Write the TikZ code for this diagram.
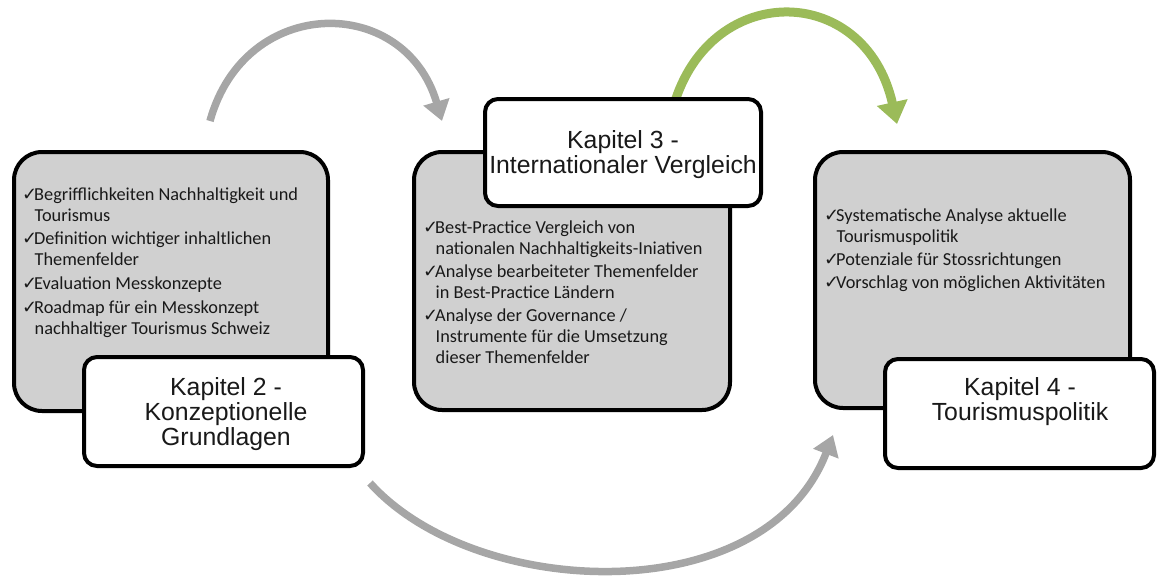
\documentclass[tikz,border=0pt]{standalone}
\usepackage{fontspec}
\usetikzlibrary{arrows.meta}
\newfontfamily\titlefont{Liberation Sans}
\newfontfamily\bodyfont{Carlito}
\newfontfamily\symfont{DejaVu Sans}
\definecolor{boxgray}{HTML}{D0D0D0}
\definecolor{arrowgray}{HTML}{A6A6A6}
\definecolor{arrowgreen}{HTML}{9BBB59}
\newcommand{\chk}{\makebox[12pt][l]{\symfont\fontsize{18}{18}\selectfont ✓}}
\newcommand{\cont}{\hspace*{0.5pt}}
\tikzset{
  graybox/.style={draw=black, line width=4pt, fill=boxgray, rounded corners=28pt},
  titlebox/.style={draw=black, line width=4pt, fill=white, rounded corners=13pt},
  titletext/.style={align=center, inner sep=0pt, font=\titlefont\fontsize{24.8}{25}\selectfont, text=black!90},
  bullettext/.style={anchor=north west, align=left, inner sep=0pt, font=\bodyfont\fontsize{18.3}{21}\selectfont, text=black!90},
  flow/.style={line width=7.5pt, draw=arrowgray, -{Triangle[length=20pt,width=26pt]}},
  flowgreen/.style={line width=9pt, draw=arrowgreen, -{Triangle[length=22pt,width=30pt]}}
}
\begin{document}
\begin{tikzpicture}[x=1pt, y=-1pt]
\useasboundingbox (0,0) rectangle (1158,576);

% curved flow arrows (drawn first, boxes sit on top)
\coordinate (a1s) at (210,121);
\coordinate (a1e) at (442,121);
\coordinate (a2s) at (672,112);
\coordinate (a2e) at (897,124);
\coordinate (a3s) at (370,483);
\coordinate (a3e) at (833,435);
\draw[flow] (a1s) .. controls (245,-6) and (405,-6) .. (a1e);
\draw[flowgreen] (a2s) .. controls (705,-20) and (865,-20) .. (a2e);
\draw[flow] (a3s) .. controls (475,600) and (765,612) .. (a3e);

% chapter 2
\node[graybox, minimum width=314pt, minimum height=259pt] (g2) at (171,281.5) {};
\node[bullettext] (t2) at (22,188) {%
\chk Begrifflichkeiten Nachhaltigkeit und\\
\cont\phantom{\chk}Tourismus\\[2pt]
\chk Definition wichtiger inhaltlichen\\
\cont\phantom{\chk}Themenfelder\\[3pt]
\chk Evaluation Messkonzepte\\[3pt]
\chk Roadmap für ein Messkonzept\\
\cont\phantom{\chk}nachhaltiger Tourismus Schweiz};
\node[titlebox, minimum width=279pt, minimum height=109pt] (k2) at (223.5,411.5) {};
\node[titletext] (k2t) at (226,414) {Kapitel 2 -\\Konzeptionelle\\Grundlagen};

% chapter 3
\node[graybox, minimum width=316pt, minimum height=258pt] (g3) at (572,281) {};
\node[bullettext] (t3) at (423,221) {%
\chk Best-Practice Vergleich von\\
\cont\phantom{\chk}nationalen Nachhaltigkeits-Iniativen\\[2pt]
\chk Analyse bearbeiteter Themenfelder\\
\cont\phantom{\chk}in Best-Practice Ländern\\[2pt]
\chk Analyse der Governance /\\
\cont\phantom{\chk}Instrumente für die Umsetzung\\
\cont\phantom{\chk}dieser Themenfelder};
\node[titlebox, minimum width=276pt, minimum height=107pt] (k3) at (623,152.5) {};
\node[titletext] (k3t) at (623,155) {Kapitel 3 -\\Internationaler Vergleich};

% chapter 4
\node[graybox, minimum width=315pt, minimum height=256pt] (g4) at (972.5,280) {};
\node[bullettext] (t4) at (824,209) {%
\chk Systematische Analyse aktuelle\\
\cont\phantom{\chk}Tourismuspolitik\\[2pt]
\chk Potenziale für Stossrichtungen\\[2pt]
\chk Vorschlag von möglichen Aktivitäten};
\node[titlebox, minimum width=269pt, minimum height=109pt] (k4) at (1019.5,413.5) {};
\node[titletext] (k4t) at (1020,402) {Kapitel 4 -\\Tourismuspolitik};
\end{tikzpicture}
\end{document}
